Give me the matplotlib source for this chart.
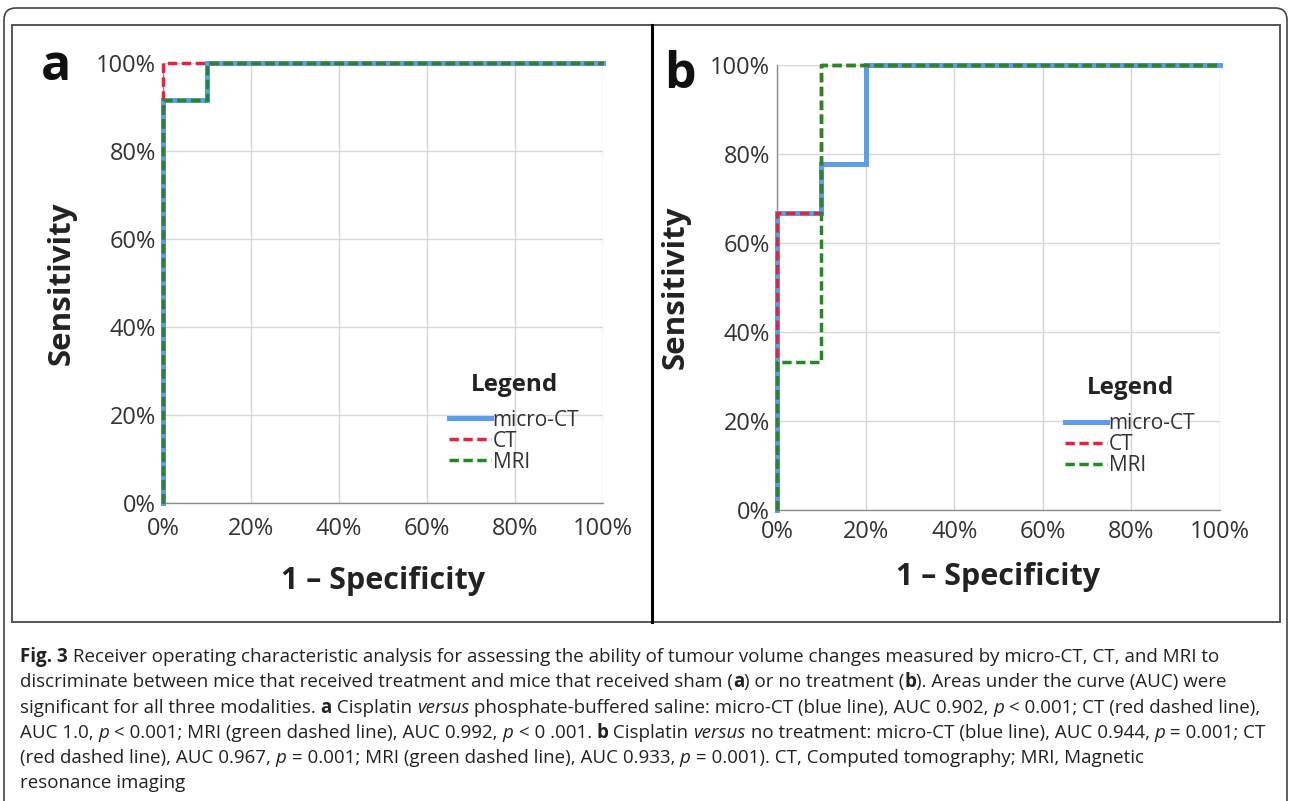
import matplotlib
matplotlib.use("Agg")
import matplotlib.pyplot as plt
from matplotlib.patches import FancyBboxPatch, Rectangle
from matplotlib.font_manager import FontProperties
from matplotlib.ticker import FuncFormatter

# ---------------- data ----------------
a_micro_x = [0.0, 0.0, 0.1, 0.1, 1.0]
a_micro_y = [0.0, 0.917, 0.917, 1.0, 1.0]
a_ct_x = [0.0, 0.0, 1.0]
a_ct_y = [0.0, 1.0, 1.0]
a_mri_x = [0.0, 0.0, 0.1, 0.1, 1.0]
a_mri_y = [0.0, 0.917, 0.917, 1.0, 1.0]

b_micro_x = [0.0, 0.0, 0.1, 0.1, 0.2, 0.2, 1.0]
b_micro_y = [0.0, 0.667, 0.667, 0.778, 0.778, 1.0, 1.0]
b_ct_x = [0.0, 0.0, 0.1, 0.1, 1.0]
b_ct_y = [0.0, 0.667, 0.667, 1.0, 1.0]
b_mri_x = [0.0, 0.0, 0.1, 0.1, 1.0]
b_mri_y = [0.0, 0.333, 0.333, 1.0, 1.0]

ticks = [0.0, 0.2, 0.4, 0.6, 0.8, 1.0]
series_names = ["micro-CT", "CT", "MRI"]
panel_letters = ["a", "b"]
xlabel = "1 \u2013 Specificity"
ylabel = "Sensitivity"
legend_title = "Legend"

caption_lines = [
    [("Fig. 3", "b"), (" Receiver operating characteristic analysis for assessing the ability of tumour volume changes measured by micro-CT, CT, and MRI to", "n")],
    [("discriminate between mice that received treatment and mice that received sham (", "n"), ("a", "b"), (") or no treatment (", "n"), ("b", "b"), ("). Areas under the curve (AUC) were", "n")],
    [("significant for all three modalities. ", "n"), ("a", "b"), (" Cisplatin ", "n"), ("versus", "i"), (" phosphate-buffered saline: micro-CT (blue line), AUC 0.902, ", "n"), ("p", "i"), (" < 0.001; CT (red dashed line),", "n")],
    [("AUC 1.0, ", "n"), ("p", "i"), (" < 0.001; MRI (green dashed line), AUC 0.992, ", "n"), ("p", "i"), (" < 0 .001. ", "n"), ("b", "b"), (" Cisplatin ", "n"), ("versus", "i"), (" no treatment: micro-CT (blue line), AUC 0.944, ", "n"), ("p", "i"), (" = 0.001; CT", "n")],
    [("(red dashed line), AUC 0.967, ", "n"), ("p", "i"), (" = 0.001; MRI (green dashed line), AUC 0.933, ", "n"), ("p", "i"), (" = 0.001). CT, Computed tomography; MRI, Magnetic", "n")],
    [("resonance imaging", "n")],
]

# ---------------- style ----------------
W, H = 1290, 801
C_BLUE = "#5b9ceb"
C_RED = "#e8213c"
C_GREEN = "#218a21"
FONT = "Open Sans"

fig = plt.figure(figsize=(W / 100, H / 100), dpi=100)
fig.patch.set_facecolor("white")

# background axes in pixel coordinates
bg = fig.add_axes([0, 0, 1, 1])
bg.set_xlim(0, W)
bg.set_ylim(H, 0)
bg.axis("off")
bg.add_patch(FancyBboxPatch((4, 8), 1283, 900, boxstyle="round,pad=0,rounding_size=12",
                            fill=False, ec="#444444", lw=1.2))
bg.add_patch(Rectangle((12, 25), 1268, 597, fill=False, ec="#555555", lw=1.4))
bg.plot([652, 652], [25, 622], color="black", lw=2.2)


def pct(v, _):
    return f"{int(round(v * 100))}%"


def make_panel(rect_px, letter, letter_xy, data, xpad, xlabelpad, legy):
    l, t, r, b = rect_px
    ax = fig.add_axes([l / W, (H - b) / H, (r - l) / W, (b - t) / H])
    ax.set_xlim(0, 1)
    ax.set_ylim(0, 1)
    ax.set_xticks(ticks)
    ax.set_yticks(ticks)
    ax.xaxis.set_major_formatter(FuncFormatter(pct))
    ax.yaxis.set_major_formatter(FuncFormatter(pct))
    ax.grid(True, color="#d6d6d6", lw=1.0)
    ax.set_axisbelow(True)
    for s in ["top", "right"]:
        ax.spines[s].set_visible(False)
    for s in ["left", "bottom"]:
        ax.spines[s].set_color("#8c8c8c")
        ax.spines[s].set_linewidth(1.0)
    ax.tick_params(axis="y", length=0, labelsize=17, colors="#333333", pad=5)
    ax.tick_params(axis="x", length=0, labelsize=17, colors="#333333", pad=xpad)
    for lab in ax.get_xticklabels() + ax.get_yticklabels():
        lab.set_family(FONT)
    (mx, my), (cx, cy), (gx, gy) = data
    ax.plot(mx, my, color=C_BLUE, lw=3.6, solid_joinstyle="miter", label=series_names[0], clip_on=False, zorder=3)
    ax.plot(cx, cy, color=C_RED, lw=2.5, dashes=(2.7, 1.3), label=series_names[1], clip_on=False, zorder=4)
    ax.plot(gx, gy, color=C_GREEN, lw=2.5, dashes=(2.7, 1.3), label=series_names[2], clip_on=False, zorder=5)
    ax.set_xlabel(xlabel, fontsize=22, fontweight="bold", family=FONT, color="#222222", labelpad=xlabelpad)
    ax.set_ylabel(ylabel, fontsize=22.5, fontweight="bold", family=FONT, color="#222222", labelpad=14)
    leg = ax.legend(loc="upper left", bbox_to_anchor=(0.65, legy), frameon=False,
                    title=legend_title, prop=FontProperties(family=FONT, size=15),
                    handlelength=2.0, handletextpad=0.1, labelspacing=0.0, borderpad=0,
                    borderaxespad=0)
    leg.get_title().set_fontproperties(FontProperties(family=FONT, size=17.5, weight="bold"))
    leg.get_title().set_color("#222222")
    for txt in leg.get_texts():
        txt.set_color("#333333")
    leg._legend_box.sep = 9
    bg.text(letter_xy[0], letter_xy[1], letter, fontsize=36, fontweight="bold", family=FONT,
            ha="center", va="baseline", color="#111111")
    return ax


make_panel((163, 63, 603, 503), panel_letters[0], (56, 80),
           ((a_micro_x, a_micro_y), (a_ct_x, a_ct_y), (a_mri_x, a_mri_y)), 10, 18, 0.295)
make_panel((777, 65, 1220, 510), panel_letters[1], (680, 88),
           ((b_micro_x, b_micro_y), (b_ct_x, b_ct_y), (b_mri_x, b_mri_y)), 7, 13, 0.30)

# ---------------- caption ----------------
fig.canvas.draw()
renderer = fig.canvas.get_renderer()
cap_size = 13.5
fps = {
    "n": FontProperties(family=FONT, size=cap_size),
    "b": FontProperties(family=FONT, size=cap_size, weight="bold"),
    "i": FontProperties(family=FONT, size=cap_size, style="italic"),
}


def width_px(s, fp):
    w1, _, _ = renderer.get_text_width_height_descent("x" + s + "x", fp, ismath=False)
    w0, _, _ = renderer.get_text_width_height_descent("xx", fp, ismath=False)
    return w1 - w0


y0 = 662
dy = 25.3
for i, line in enumerate(caption_lines):
    x = 20
    y = y0 + i * dy
    for s, st in line:
        bg.text(x, y, s, fontproperties=fps[st], color="#222222", ha="left", va="baseline")
        x += width_px(s, fps[st])

fig.savefig("out.png", dpi=100, facecolor="white")
